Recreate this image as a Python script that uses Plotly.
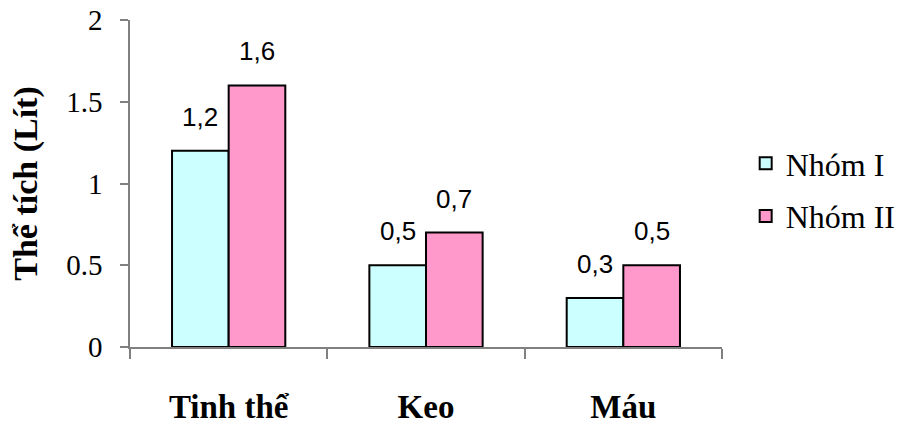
import plotly.graph_objects as go

# Data
categories = ["Tinh thể", "Keo", "Máu"]
group1_name = "Nhóm I"
group2_name = "Nhóm II"
group1_values = [1.2, 0.5, 0.3]
group2_values = [1.6, 0.7, 0.5]
y_ticks = [0, 0.5, 1, 1.5, 2]
y_tick_labels = ["0", "0.5", "1", "1.5", "2"]

SERIF = "Liberation Serif, Times New Roman, serif"
SANS = "Liberation Sans, Arial, sans-serif"

fig = go.Figure()
fig.add_trace(go.Bar(
    name=group1_name, x=categories, y=group1_values,
    marker=dict(color="#CCFFFF", line=dict(color="black", width=2)),
    legendgroup="g1",
))
fig.add_trace(go.Bar(
    name=group2_name, x=categories, y=group2_values,
    marker=dict(color="#FF99CC", line=dict(color="black", width=2)),
    legendgroup="g2",
))

# Value labels above each bar, written with a decimal comma
for offset_group, values in ((0, group1_values), (1, group2_values)):
    for i, v in enumerate(values):
        fig.add_annotation(
            x=i + (-0.143 if offset_group == 0 else 0.143), y=v,
            xref="x", yref="y",
            text=f"{v:.1f}".replace(".", ","),
            showarrow=False, yanchor="bottom", yshift=17,
            font=dict(family=SANS, size=26, color="black"),
        )

fig.update_layout(
    width=918, height=426,
    margin=dict(l=130, r=196, t=20, b=79),
    paper_bgcolor="white", plot_bgcolor="white",
    barmode="group", bargap=0.426, bargroupgap=0,
    showlegend=True,
    legend=dict(
        x=1.04, y=0.48, xanchor="left", yanchor="middle",
        font=dict(family=SERIF, size=32, color="black"),
        tracegroupgap=8, bgcolor="rgba(0,0,0,0)",
    ),
    xaxis=dict(
        automargin=False,
        showline=True, linecolor="#808080", linewidth=1.5,
        ticks="outside", tickson="boundaries", ticklen=10,
        tickcolor="#808080", tickwidth=1.5,
        tickfont=dict(family=SERIF, size=33, color="black", weight="bold"),
        ticklabelstandoff=30,
        showgrid=False, zeroline=False,
    ),
    yaxis=dict(
        automargin=False,
        range=[0, 2], tickvals=y_ticks, ticktext=y_tick_labels,
        showline=True, linecolor="#808080", linewidth=1.5,
        ticks="outside", ticklen=8, tickcolor="#808080", tickwidth=1.5,
        tickfont=dict(family=SERIF, size=29, color="black"),
        ticklabelstandoff=12,
        showgrid=False, zeroline=False,
        title=dict(text="Thể tích (Lít)",
                   font=dict(family=SERIF, size=34, color="black", weight="bold"),
                   standoff=18),
    ),
)

fig.write_html("out.html")
